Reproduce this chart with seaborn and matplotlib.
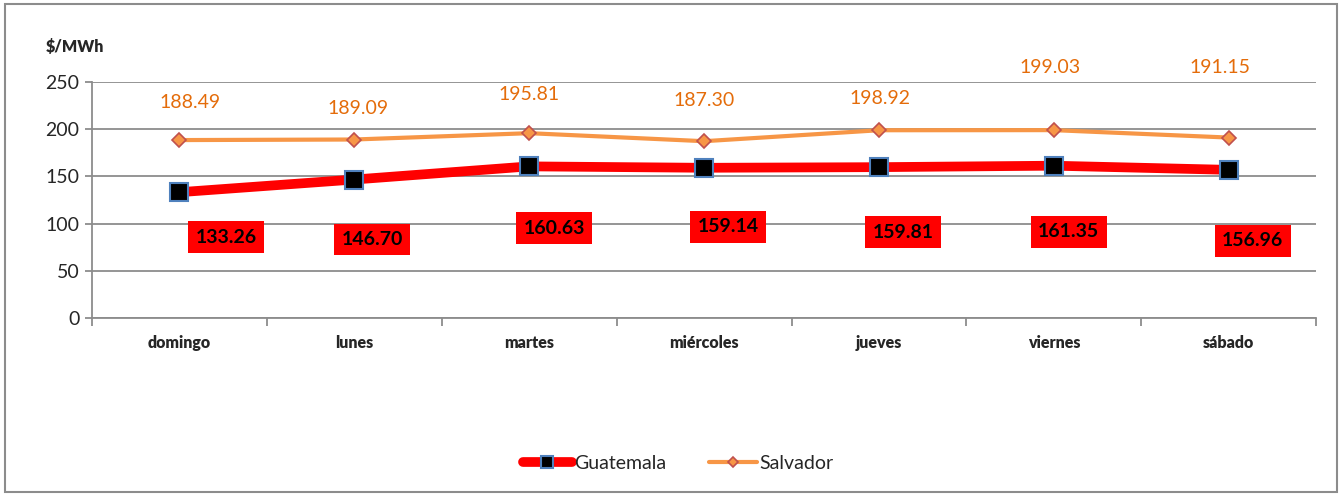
import numpy as np
import pandas as pd
import seaborn as sns
import matplotlib.pyplot as plt
from matplotlib.patches import Rectangle
from matplotlib.ticker import FixedLocator

# data
dias = ['domingo', 'lunes', 'martes', 'miércoles', 'jueves', 'viernes', 'sábado']
guatemala = [133.26, 146.70, 160.63, 159.14, 159.81, 161.35, 156.96]
salvador = [188.49, 189.09, 195.81, 187.30, 198.92, 199.03, 191.15]

# label offsets (pixels) as placed in the original
gt_off = [(47, -45), (18, -60), (25, -62), (24, -59), (24, -65), (15, -66), (24, -71)]
sv_off = [(11, 38), (4, 31), (0, 39), (0, 41), (1, 32), (-4, 63), (-9, 70)]

sns.set_theme(style='white')
plt.rcParams['font.family'] = ['Lato', 'DejaVu Sans']

df = pd.DataFrame({'dia': dias, 'Guatemala': guatemala, 'Salvador': salvador})

fig = plt.figure(figsize=(13.43, 4.95), dpi=100)
ax = fig.add_axes([0.0685, 0.3576, 0.9115, 0.4767])

sns.lineplot(data=df, x='dia', y='Guatemala', ax=ax, color='#FF0000', lw=7,
             marker='s', markersize=13, markerfacecolor='black',
             markeredgecolor='#4F81BD', markeredgewidth=1.5, label='Guatemala', zorder=4)
sns.lineplot(data=df, x='dia', y='Salvador', ax=ax, color='#F79646', lw=3,
             marker='D', markersize=7, markerfacecolor='#F79646',
             markeredgecolor='#C0504D', markeredgewidth=1.2, label='Salvador', zorder=3)

for i, v in enumerate(guatemala):
    ax.annotate(f'{v:.2f}', (i, v), xytext=gt_off[i], textcoords='offset pixels',
                ha='center', va='center', fontsize=14, fontweight='bold', color='black',
                bbox=dict(boxstyle='square,pad=0.38', fc='#FF0000', ec='none'), zorder=6)
for i, v in enumerate(salvador):
    ax.annotate(f'{v:.2f}', (i, v), xytext=sv_off[i], textcoords='offset pixels',
                ha='center', va='center', fontsize=14, color='#E46C0A', zorder=6)

ax.set_xlim(-0.5, 6.5)
ax.set_ylim(0, 250)
ax.set_yticks(np.arange(0, 251, 50))
ax.yaxis.grid(True, color='#8C8C8C', lw=1.3)
ax.set_axisbelow(True)
ax.set_xlabel('')
ax.set_ylabel('')

ax.xaxis.set_minor_locator(FixedLocator(np.arange(-0.5, 7, 1)))
ax.tick_params(axis='x', which='major', length=0, pad=12, labelsize=11.5)
ax.tick_params(axis='x', which='minor', length=6, width=1.3, color='#8C8C8C', direction='out', bottom=True)
ax.tick_params(axis='y', length=5, width=1.3, color='#8C8C8C', direction='out', left=True, labelsize=14, pad=4)
for t in ax.get_xticklabels():
    t.set_fontweight('heavy')

for s in ['top', 'right']:
    ax.spines[s].set_visible(False)
for s in ['left', 'bottom']:
    ax.spines[s].set_color('#8C8C8C')
    ax.spines[s].set_linewidth(1.3)

fig.text(75 / 1343, 1 - 47 / 495, '$/MWh', ha='center', va='center', fontsize=11.5, fontweight='heavy')

ax.legend(loc='center', bbox_to_anchor=(0.505, 0.064), bbox_transform=fig.transFigure,
          ncol=2, frameon=False, fontsize=14, handlelength=2.5, handletextpad=0.1,
          columnspacing=2.2, markerscale=0.7)

fig.patches.append(Rectangle((5 / 1343, 1 - 492 / 495), 1332 / 1343, 488 / 495,
                             transform=fig.transFigure, fill=False, ec='#8C8C8C', lw=1.5))

fig.savefig('out.png', dpi=100)
